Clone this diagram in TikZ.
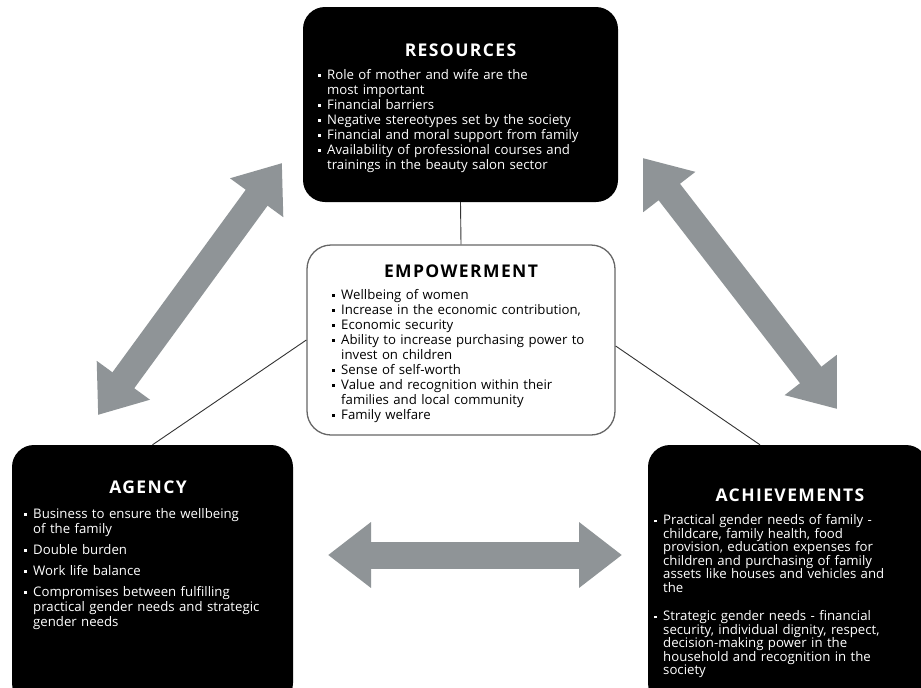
\documentclass[tikz,border=0pt]{standalone}
\usepackage{fontspec}
\setmainfont{Open Sans}
\usetikzlibrary{arrows.meta,calc}
\definecolor{arrowgray}{RGB}{143,148,151}
\newcommand{\bitem}[1]{\par\hangindent=9pt\hangafter=1\noindent\makebox[9pt][l]{\rule[2.3pt]{2.6pt}{2.6pt}}#1}

\begin{document}
\begin{tikzpicture}[x=1pt,y=-1pt,
  darkbox/.style={fill=black,rounded corners=22pt,inner sep=0pt},
  lightbox/.style={fill=white,draw=black!60,line width=1.3pt,rounded corners=24pt,inner sep=0pt},
  boxtitle/.style={font=\fontsize{17.5}{19}\selectfont\bfseries\addfontfeatures{LetterSpace=8},inner sep=0pt},
  bulletlist/.style={font=\fontsize{13.2}{15}\selectfont,align=left,inner sep=0pt,anchor=north west},
  bigarrow/.style={arrowgray,line width=27pt,{Triangle[length=43pt,width=63pt]}-{Triangle[length=43pt,width=63pt]}},
  link/.style={black!80,line width=0.9pt}]
\clip (0,0) rectangle (921,688);
\fill[white] (0,0) rectangle (921,688);

\coordinate (la) at (98,415);
\coordinate (lb) at (282,163);
\coordinate (ra) at (643,158);
\coordinate (rb) at (837,409);
\coordinate (ha) at (328,555);
\coordinate (hb) at (622,555);
\draw[bigarrow] (la) -- (lb);
\draw[bigarrow] (ra) -- (rb);
\draw[bigarrow] (ha) -- (hb);

\node[darkbox,minimum width=315pt,minimum height=195pt] (res) at (460.5,104.5) {};
\node[lightbox,minimum width=308pt,minimum height=190pt] (emp) at (461,340) {};
\node[darkbox,minimum width=281pt,minimum height=260pt] (agn) at (152.5,575) {};
\node[darkbox,minimum width=280pt,minimum height=260pt] (ach) at (788,575) {};

\draw[link] (res.south) -- (emp.north);
\draw[link] (emp.west) -- (agn.north);
\draw[link] ([yshift=-6pt]emp.east) -- ([xshift=-28pt]ach.north);

\node[boxtitle,white] (res title) at (460.5,50) {RESOURCES};
\node[bulletlist,white,text width=290pt] (res list) at (318,64) {%
  \bitem{Role of mother and wife are the\newline most important}
  \bitem{Financial barriers}
  \bitem{Negative stereotypes set by the society}
  \bitem{Financial and moral support from family}
  \bitem{Availability of professional courses and\newline trainings in the beauty salon sector}\par};

\node[boxtitle] (emp title) at (461,271) {EMPOWERMENT};
\node[bulletlist,text width=280pt] (emp list) at (332,284) {%
  \bitem{Wellbeing of women}
  \bitem{Increase in the economic contribution,}
  \bitem{Economic security}
  \bitem{Ability to increase purchasing power to\newline invest on children}
  \bitem{Sense of self-worth}
  \bitem{Value and recognition within their\newline families and local community}
  \bitem{Family welfare}\par};

\node[boxtitle,white] (agn title) at (148,487) {AGENCY};
\node[bulletlist,white,text width=265pt] (agn list) at (24,503) {%
  \bitem{Business to ensure the wellbeing\newline of the family}
  \setlength{\parskip}{6pt}
  \bitem{Double burden}
  \bitem{Work life balance}
  \bitem{Compromises between fulfilling\newline practical gender needs and strategic\newline gender needs}\par};

\node[boxtitle,white] (ach title) at (790,495) {ACHIEVEMENTS};
\node[bulletlist,white,text width=260pt,
  font=\fontsize{13.2}{13.5}\selectfont] (ach list) at (654,511) {%
  \bitem{Practical gender needs of family -\newline childcare, family health, food\newline provision, education expenses for\newline children and purchasing of family\newline assets like houses and vehicles and\newline the}
  \setlength{\parskip}{15pt}
  \bitem{Strategic gender needs - financial\newline security, individual dignity, respect,\newline decision-making power in the\newline household and recognition in the\newline society}\par};
\end{tikzpicture}
\end{document}
